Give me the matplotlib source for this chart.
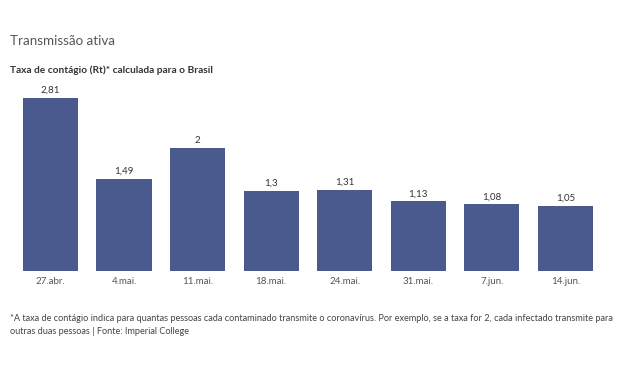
import matplotlib
matplotlib.use('Agg')
import matplotlib.pyplot as plt

datas = ['27.abr.', '4.mai.', '11.mai.', '18.mai.', '24.mai.', '31.mai.', '7.jun.', '14.jun.']
taxa = [2.81, 1.49, 2, 1.3, 1.31, 1.13, 1.08, 1.05]
rotulos = ['2,81', '1,49', '2', '1,3', '1,31', '1,13', '1,08', '1,05']

plt.rcParams['font.family'] = ['Lato', 'DejaVu Sans']

fig = plt.figure(figsize=(6.4, 3.74), dpi=100)
ax = fig.add_axes([0.0214, 0.2754, 0.9196, 0.4947])

x = range(len(taxa))
bars = ax.bar(x, taxa, width=0.75, color='#4a5a8f')
for b, r in zip(bars, rotulos):
    ax.text(b.get_x() + b.get_width() / 2, b.get_height() + 0.05, r,
            ha='center', va='bottom', fontsize=7, color='#333333')

ax.set_xlim(-0.5, 7.5)
ax.set_ylim(0, 3)
ax.set_xticks(list(x))
ax.set_xticklabels(datas, fontsize=7, color='#555555')
ax.tick_params(axis='x', length=0, pad=4)
ax.set_yticks([])
for s in ax.spines.values():
    s.set_visible(False)

fig.text(10 / 640, 1 - 41 / 374, 'Transmissão ativa', fontsize=9.6, color='#555555', va='center')
fig.text(10 / 640, 1 - 70 / 374, 'Taxa de contágio (Rt)* calculada para o Brasil',
         fontsize=7.3, fontweight='bold', color='#333333', va='center')
fig.text(10 / 640, 1 - 314 / 374,
         '*A taxa de contágio indica para quantas pessoas cada contaminado transmite o coronavírus. '
         'Por exemplo, se a taxa for 2, cada infectado transmite para\noutras duas pessoas | Fonte: Imperial College',
         fontsize=6.6, color='#444444', va='top', linespacing=1.6)

fig.savefig('out.png', dpi=100, facecolor='white')
